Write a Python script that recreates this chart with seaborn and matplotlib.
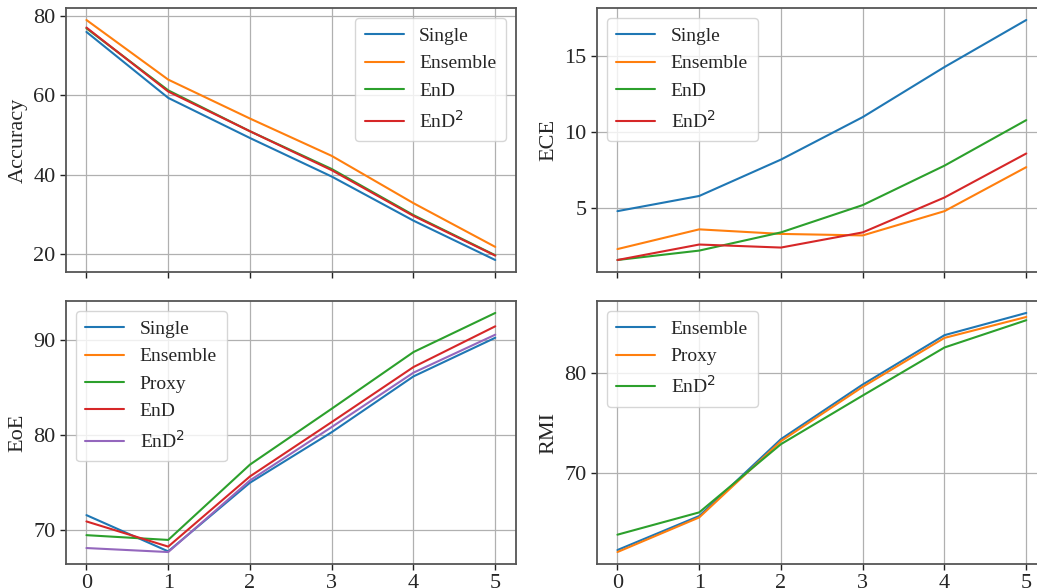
import numpy as np
import matplotlib
matplotlib.use("Agg")
import matplotlib.pyplot as plt
import seaborn as sns
from matplotlib.lines import Line2D

x = [0, 1, 2, 3, 4, 5]

acc_single = [76.0, 59.4, 49.3, 39.6, 28.5, 18.6]
acc_ensemble = [79.0, 64.0, 54.2, 44.8, 32.9, 21.9]
acc_end = [76.9, 61.3, 51.0, 41.5, 29.9, 19.8]
acc_end2 = [77.1, 61.0, 51.0, 41.2, 29.7, 19.7]

ece_single = [4.8, 5.8, 8.2, 11.0, 14.3, 17.4]
ece_ensemble = [2.3, 3.6, 3.3, 3.2, 4.8, 7.7]
ece_end = [1.58, 2.2, 3.4, 5.2, 7.8, 10.8]
ece_end2 = [1.58, 2.6, 2.4, 3.4, 5.7, 8.6]

eoe_single = [71.6, 67.8, 75.0, 80.3, 86.15, 90.2]
eoe_ensemble = [np.nan] * 6
eoe_proxy = [69.5, 69.0, 76.9, 82.76, 88.7, 92.8]
eoe_end = [70.94, 68.3, 75.66, 81.36, 87.13, 91.4]
eoe_end2 = [68.15, 67.73, 75.24, 80.84, 86.54, 90.52]

rmi_ensemble = [62.41, 65.78, 73.4, 78.81, 83.7, 85.9]
rmi_proxy = [62.21, 65.64, 73.2, 78.58, 83.43, 85.5]
rmi_end2 = [63.93, 66.14, 72.9, 77.72, 82.48, 85.18]

sns.set_style("ticks")
plt.rcParams['font.family'] = ['Liberation Serif', 'DejaVu Serif']
plt.rcParams['mathtext.fontset'] = 'dejavusans'

pal = sns.color_palette("tab10")

fig = plt.figure(figsize=(10.37, 5.88), dpi=100)
W = 449.7 / 1037
pos = {
    'tl': [66 / 1037, 1 - 272 / 588, W, 264 / 588],
    'tr': [597 / 1037, 1 - 272 / 588, W, 264 / 588],
    'bl': [66 / 1037, 1 - 564 / 588, W, 263 / 588],
    'br': [597 / 1037, 1 - 564 / 588, W, 263 / 588],
}
axes = {k: fig.add_axes(v) for k, v in pos.items()}

END2 = r"EnD$^2$"
panels = [
    ('tl', "Accuracy", [("Single", acc_single), ("Ensemble", acc_ensemble),
                        ("EnD", acc_end), (END2, acc_end2)], "upper right", [20, 40, 60, 80]),
    ('tr', "ECE", [("Single", ece_single), ("Ensemble", ece_ensemble),
                   ("EnD", ece_end), (END2, ece_end2)], "upper left", [5, 10, 15]),
    ('bl', "EoE", [("Single", eoe_single), ("Ensemble", eoe_ensemble), ("Proxy", eoe_proxy),
                   ("EnD", eoe_end), (END2, eoe_end2)], "upper left", [70, 80, 90]),
    ('br', "RMI", [("Ensemble", rmi_ensemble), ("Proxy", rmi_proxy),
                   (END2, rmi_end2)], "upper left", [70, 80]),
]

for key, ylabel, series, loc, yticks in panels:
    ax = axes[key]
    handles = []
    for i, (name, vals) in enumerate(series):
        if not np.all(np.isnan(vals)):
            sns.lineplot(x=x, y=vals, ax=ax, color=pal[i], linewidth=1.5, legend=False)
        handles.append(Line2D([0], [0], color=pal[i], linewidth=1.5, label=name))
    ax.set_xlim(-0.25, 5.25)
    ax.set_xticks(x)
    ax.set_yticks(yticks)
    ax.grid(True, color='#b0b0b0', linewidth=0.9)
    ax.set_axisbelow(True)
    for s in ax.spines.values():
        s.set_color('#555555')
        s.set_linewidth(1.3)
        s.set_visible(True)
    ax.tick_params(labelsize=16, length=4, width=1, color='#222222')
    ax.set_ylabel(ylabel, fontsize=16)
    ax.set_xlabel("")
    if key in ('tl', 'tr'):
        ax.tick_params(labelbottom=False)
    ax.legend(handles=handles, loc=loc, fontsize=14, framealpha=0.8,
              handlelength=2.0, borderpad=0.5)

fig.savefig("out.png", dpi=100)
